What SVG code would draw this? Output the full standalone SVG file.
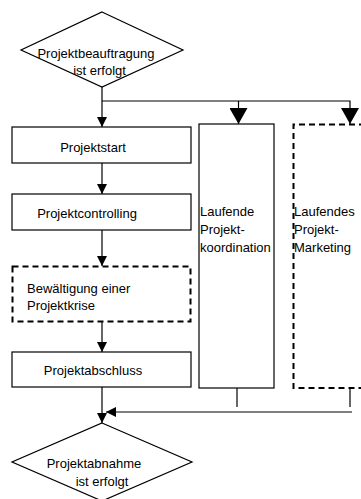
<svg xmlns="http://www.w3.org/2000/svg" width="361" height="499" viewBox="0 0 361 499">
<style>
.n{fill:#fff;stroke:#000;stroke-width:1.2}
.d{fill:#fff;stroke:#000;stroke-width:2;stroke-dasharray:6,4}
.c{fill:none;stroke:#000;stroke-width:1.2}
text{font-family:"Liberation Sans",Arial,sans-serif;font-size:13px;fill:#000}
.m{text-anchor:middle}
</style>
<defs>
<marker id="a" markerUnits="userSpaceOnUse" markerWidth="10" markerHeight="10" refX="10" refY="5" orient="auto"><path d="M0,0 L10,5 L0,10 z" fill="#000"/></marker>
<marker id="b" markerUnits="userSpaceOnUse" markerWidth="16" markerHeight="18" refX="16" refY="9" orient="auto"><path d="M0,0 L16,9 L0,18 z" fill="#000"/></marker>
</defs>
<rect width="361" height="499" fill="#fff"/>
<g id="connectors">
<path class="c" d="M102,87 V127" marker-end="url(#a)"/>
<path class="c" d="M102,101 H350 V124" marker-end="url(#b)"/>
<path class="c" d="M238.5,101 V124" marker-end="url(#b)"/>
<path class="c" d="M102,163 V194" marker-end="url(#a)"/>
<path class="c" d="M102,230 V266" marker-end="url(#a)"/>
<path class="c" d="M102,322 V352" marker-end="url(#a)"/>
<path class="c" d="M102,387 V423" marker-end="url(#a)"/>
<path class="c" d="M237,388 V407"/>
<path class="c" d="M350,388 V407"/>
<path class="c" d="M352,412 H106" marker-end="url(#a)"/>
</g>
<g id="start">
<polygon class="n" points="102,12 183,50 102,87 21,50"/>
<text x="96" y="57.5" class="m">Projektbeauftragung</text>
<text x="99.5" y="75" class="m">ist erfolgt</text>
</g>
<g id="projektstart">
<rect class="n" x="12" y="127" width="179" height="36"/>
<text x="93" y="152" class="m">Projektstart</text>
</g>
<g id="projektcontrolling">
<rect class="n" x="12" y="194" width="179" height="36"/>
<text x="87" y="217.5" class="m">Projektcontrolling</text>
</g>
<g id="krise">
<rect class="d" x="12.5" y="266.5" width="178" height="55"/>
<text x="27" y="292.5">Bewältigung einer</text>
<text x="27" y="310">Projektkrise</text>
</g>
<g id="projektabschluss">
<rect class="n" x="12" y="352" width="179" height="35"/>
<text x="93" y="375" class="m">Projektabschluss</text>
</g>
<g id="koordination">
<rect class="n" x="199" y="124" width="75" height="264"/>
<text x="200" y="216">Laufende</text>
<text x="200" y="234">Projekt-</text>
<text x="200" y="252">koordination</text>
</g>
<g id="marketing">
<path class="d" d="M365,124.5 H293.5 V388 H365"/>
<text x="294" y="216">Laufendes</text>
<text x="294" y="234">Projekt-</text>
<text x="294" y="252">Marketing</text>
</g>
<g id="ende">
<polygon class="n" points="102,423 192,462 102,501 12,462"/>
<text x="94" y="467.5" class="m">Projektabnahme</text>
<text x="102" y="486" class="m">ist erfolgt</text>
</g>
</svg>
